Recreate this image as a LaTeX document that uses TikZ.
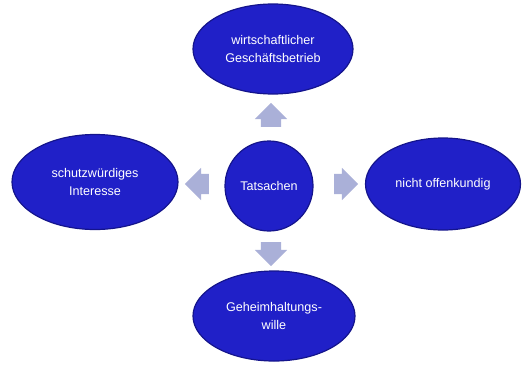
\documentclass[tikz,border=0pt]{standalone}
\usepackage{fontspec}
\setmainfont{Liberation Sans}
\usetikzlibrary{shapes.geometric,shapes.arrows}
\definecolor{ovalblue}{RGB}{32,32,200}
\definecolor{ovalrim}{RGB}{20,20,140}
\definecolor{arrowlav}{RGB}{170,176,216}
\begin{document}
\begin{tikzpicture}[
    x=1pt, y=-1pt,
    every node/.style={font=\fontsize{12.6}{18}\selectfont, align=center},
    oval/.style={ellipse, fill=ovalblue, draw=ovalrim, line width=1.2pt,
                 text=white, inner sep=0pt},
    blockarr/.style={single arrow, fill=arrowlav, draw=none, inner xsep=0pt,
                     inner ysep=10pt, minimum height=24pt,
                     single arrow head extend=6pt},
]
    \useasboundingbox (0,0) rectangle (525,365);
    \node[oval, minimum width=88pt, minimum height=90pt] (fact) at (269,186) {Tatsachen};
    \node[oval, minimum width=160pt, minimum height=90pt] (biz) at (273,49) {wirtschaftlicher\\ Geschäftsbetrieb};
    \node[oval, minimum width=166pt, minimum height=95pt] (interest) at (95,182) {schutzwürdiges\\ Interesse};
    \node[oval, minimum width=155pt, minimum height=92pt] (open) at (443,184) {nicht offenkundig};
    \node[oval, minimum width=162pt, minimum height=90pt] (will) at (274,316) {Geheimhaltungs-\\ wille};
    % block arrows from the centre outwards
    \node[blockarr, rotate=90] (toBiz) at (271,120) {};
    \node[blockarr, rotate=180] (toInterest) at (202,184) {};
    \node[blockarr] (toOpen) at (341,184) {};
    \node[blockarr, rotate=270] (toWill) at (271,249) {};
\end{tikzpicture}
\end{document}
